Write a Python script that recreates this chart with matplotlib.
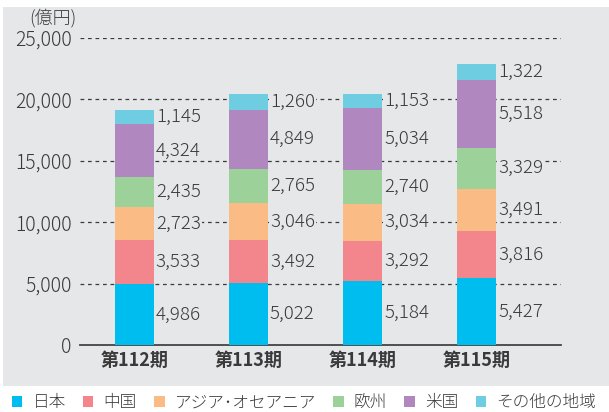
import matplotlib
matplotlib.use("Agg")
import matplotlib.pyplot as plt
from matplotlib.patches import Patch, Rectangle
import numpy as np

plt.rcParams['font.family'] = ['Noto Sans CJK JP', 'DejaVu Sans']

# データ (億円)
periods = ["第112期", "第113期", "第114期", "第115期"]
regions = ["日本", "中国", "アジア･オセアニア", "欧州", "米国", "その他の地域"]
japan = [4986, 5022, 5184, 5427]
china = [3533, 3492, 3292, 3816]
asia_oceania = [2723, 3046, 3034, 3491]
europe = [2435, 2765, 2740, 3329]
usa = [4324, 4849, 5034, 5518]
others = [1145, 1260, 1153, 1322]
y_ticks = [0, 5000, 10000, 15000, 20000, 25000]

series = [japan, china, asia_oceania, europe, usa, others]
colors = ["#00bdf0", "#f3868c", "#fbbb84", "#9dd19a", "#b088bf", "#6ecde0"]
bg = "#e6e7e9"
text_color = "#3a3a3a"

fig = plt.figure(figsize=(6.09, 4.12), dpi=100)
W, H = 609, 412
# 灰色の背景 (凡例部分は白)
fig.patches.append(Rectangle((3 / W, (412 - 386) / H), 606 / W, 379 / H,
                             transform=fig.transFigure, facecolor=bg,
                             edgecolor="none", zorder=-10))

ax = fig.add_axes([80 / W, (412 - 345) / H, 481 / W, 307 / H])
ax.set_facecolor("none")

x = np.arange(len(periods))
width = 0.342
bottom = np.zeros(len(periods))
for vals, col in zip(series, colors):
    vals = np.array(vals)
    ax.bar(x, vals, width, bottom=bottom, color=col, zorder=3)
    for xi, b, v in zip(x, bottom, vals):
        ax.text(xi + width / 2 + 0.015, b + v / 2, f"{v:,}", ha="left", va="center",
                fontsize=13.5, fontweight="light", color=text_color, zorder=4,
                bbox=dict(facecolor=bg, edgecolor="none", pad=0.5))
    bottom += vals

ax.set_xlim(-0.478, 3.737)
ax.set_ylim(0, 25000)
ax.set_yticks(y_ticks)
ax.set_yticklabels([f"{t:,}" for t in y_ticks], fontsize=14, fontweight="light",
                   color=text_color)
ax.set_xticks(x)
ax.set_xticklabels(periods, fontsize=13, fontweight="bold", color=text_color)
ax.tick_params(axis="both", length=0)
ax.tick_params(axis="y", pad=6)
ax.tick_params(axis="x", pad=4)

for t in y_ticks[1:]:
    ax.axhline(t, color=text_color, linestyle=(0, (3, 3)), linewidth=0.9, zorder=1)

for s in ["top", "right", "left"]:
    ax.spines[s].set_visible(False)
ax.spines["bottom"].set_color("#444444")
ax.spines["bottom"].set_linewidth(1.3)

fig.text(53 / W, (412 - 18) / H, "(億円)", ha="center", va="center",
         fontsize=13, fontweight="light", color=text_color)

handles = [Patch(facecolor=c, edgecolor="none") for c in colors]
fig.legend(handles, regions, loc="center left", bbox_to_anchor=(12 / W, (412 - 403) / H),
           ncol=6, frameon=False, prop=dict(size=12, weight="light"),
           handlelength=0.62, handleheight=0.62, handletextpad=0.6,
           columnspacing=1.05, borderaxespad=0, borderpad=0,
           labelcolor=text_color)

fig.savefig("out.png", dpi=100)
